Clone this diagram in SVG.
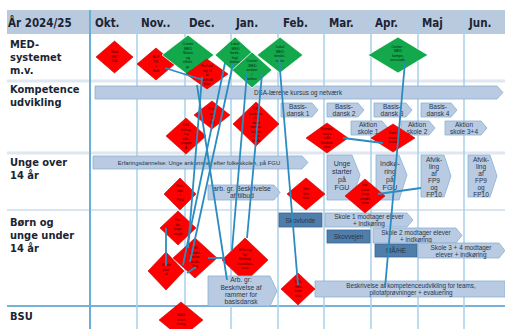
<svg xmlns="http://www.w3.org/2000/svg" width="505" height="329" viewBox="0 0 505 329">
<style>
.hdr{font-family:"DejaVu Sans Condensed","DejaVu Sans",sans-serif;font-stretch:condensed;font-weight:bold;font-size:11.5px;fill:#1b2433}
.lbl{font-family:"DejaVu Sans Condensed","DejaVu Sans",sans-serif;font-stretch:condensed;font-weight:bold;font-size:11px;fill:#1b2433}
.bar{fill:#b8cbe2;stroke:#8db0d4;stroke-width:0.8}
.dark{fill:#4f7eab;stroke:#3a6590;stroke-width:0.8}
.bt{font-family:"Liberation Sans",Arial,sans-serif;fill:#2a3548;text-anchor:middle}
.red{fill:#ff0000;stroke:#c40000;stroke-width:0.6}
.grn{fill:#13a84b;stroke:#ffffff;stroke-width:0.8}
.dt{font-family:"Liberation Sans",Arial,sans-serif;font-size:3.6px;fill:#3a0000;text-anchor:middle}
.gt{font-family:"Liberation Sans",Arial,sans-serif;font-size:3.6px;fill:#062a10;text-anchor:middle}
.vl{stroke:#a9d1ea;stroke-width:1.5}
.hl{stroke:#dfe7f0;stroke-width:3}
.cn line{stroke:#2b8cc0;stroke-width:1.8}
</style>
<rect width="505" height="329" fill="#ffffff"/>
<g id="grid">
<rect x="7" y="10" width="498" height="24" fill="#b9cadf"/>
<line class="hl" x1="7" y1="81" x2="505" y2="81"/>
<line class="hl" x1="7" y1="153" x2="505" y2="153"/>
<line x1="7" y1="210" x2="505" y2="210" stroke="#c9dced" stroke-width="1.5"/>
<line x1="7" y1="306" x2="505" y2="306" stroke="#77b2d8" stroke-width="2"/>
<line x1="90" y1="10" x2="90" y2="329" stroke="#6aaed6" stroke-width="2"/>
<line class="vl" x1="137" y1="10" x2="137" y2="329"/>
<line class="vl" x1="185" y1="10" x2="185" y2="329"/>
<line class="vl" x1="231" y1="10" x2="231" y2="329"/>
<line class="vl" x1="278" y1="10" x2="278" y2="329"/>
<line class="vl" x1="324" y1="10" x2="324" y2="329"/>
<line class="vl" x1="371" y1="10" x2="371" y2="329"/>
<line class="vl" x1="418" y1="10" x2="418" y2="329"/>
<line class="vl" x1="464" y1="10" x2="464" y2="329"/>
</g>
<g id="header">
<text class="hdr" x="8" y="27">År 2024/25</text>
<text class="hdr" x="95" y="27">Okt.</text>
<text class="hdr" x="141" y="27">Nov..</text>
<text class="hdr" x="189" y="27">Dec.</text>
<text class="hdr" x="236" y="27">Jan.</text>
<text class="hdr" x="283" y="27">Feb.</text>
<text class="hdr" x="329" y="27">Mar.</text>
<text class="hdr" x="375" y="27">Apr.</text>
<text class="hdr" x="422" y="27">Maj</text>
<text class="hdr" x="469" y="27">Jun.</text>
</g>
<g id="row-labels">
<text class="lbl" x="10" y="48">MED-</text>
<text class="lbl" x="10" y="61">systemet</text>
<text class="lbl" x="10" y="74">m.v.</text>
<text class="lbl" x="10" y="93">Kompetence</text>
<text class="lbl" x="10" y="106">udvikling</text>
<text class="lbl" x="10" y="166">Unge over</text>
<text class="lbl" x="10" y="179">14 år</text>
<text class="lbl" x="10" y="226">Børn og</text>
<text class="lbl" x="10" y="239">unge under</text>
<text class="lbl" x="10" y="252">14 år</text>
<text class="lbl" x="10" y="320">BSU</text>
</g>
<g id="bars">
<g id="dsa"><path class="bar" d="M95,86 H497 L503,92.5 L497,99 H95 Z"/><text class="bt" x="298" y="94.5" font-size="6.3">DSA-lærene kursus og netværk</text></g>
<g id="basis1"><path class="bar" d="M281,103 H312 L318,110 L312,117 H281 Z"/><text class="bt" x="298" y="109" font-size="6.5">Basis-</text><text class="bt" x="298" y="116" font-size="6.5">dansk 1</text></g>
<g id="basis2"><path class="bar" d="M327,103 H358 L364,110 L358,117 H327 Z"/><text class="bt" x="344" y="109" font-size="6.5">Basis-</text><text class="bt" x="344" y="116" font-size="6.5">dansk 2</text></g>
<g id="basis3"><path class="bar" d="M374,103 H406 L412,110 L406,117 H374 Z"/><text class="bt" x="392" y="109" font-size="6.5">Basis-</text><text class="bt" x="392" y="116" font-size="6.5">dansk 3</text></g>
<g id="basis4"><path class="bar" d="M421,103 H451 L457,110 L451,117 H421 Z"/><text class="bt" x="438" y="109" font-size="6.5">Basis-</text><text class="bt" x="438" y="116" font-size="6.5">dansk 4</text></g>
<g id="aktion1"><path class="bar" d="M351,121 H382 L388,128 L382,135 H351 Z"/><text class="bt" x="368" y="127" font-size="6.5">Aktion</text><text class="bt" x="368" y="134" font-size="6.5">skole 1</text></g>
<g id="aktion2"><path class="bar" d="M401,121 H429 L435,128 L429,135 H401 Z"/><text class="bt" x="417" y="127" font-size="6.5">Aktion</text><text class="bt" x="417" y="134" font-size="6.5">skole 2</text></g>
<g id="aktion34"><path class="bar" d="M445,121 H481 L487,128 L481,135 H445 Z"/><text class="bt" x="464" y="127" font-size="6.5">Aktion</text><text class="bt" x="464" y="134" font-size="6.5">skole 3+4</text></g>
<g id="erfaring"><path class="bar" d="M93,156 H302 L308,162.5 L302,169 H93 Z"/><text class="bt" x="199" y="164.5" font-size="5.9">Erfaringsdannelse: Unge ankommet efter folkeskolen, på FGU</text></g>
<g id="ungestarter"><path class="bar" d="M327,155 H352 L360,175 L352,200 H327 Z"/><text class="bt" x="342" y="166" font-size="7">Unge</text><text class="bt" x="342" y="174" font-size="7">starter</text><text class="bt" x="342" y="182" font-size="7">på</text><text class="bt" x="342" y="190" font-size="7">FGU</text></g>
<g id="indkoring"><path class="bar" d="M376,155 H399 L407,175 L399,200 H376 Z"/><text class="bt" x="390" y="166" font-size="7">Indkø-</text><text class="bt" x="390" y="174" font-size="7">ring</text><text class="bt" x="390" y="182" font-size="7">på</text><text class="bt" x="390" y="190" font-size="7">FGU</text></g>
<g id="afvikling1"><path class="bar" d="M421,155 H444 L451,176 L444,197 H421 Z"/><text class="bt" x="434" y="162" font-size="6.5">Afvik-</text><text class="bt" x="434" y="169" font-size="6.5">ling</text><text class="bt" x="434" y="176" font-size="6.5">af</text><text class="bt" x="434" y="183" font-size="6.5">FP9</text><text class="bt" x="434" y="190" font-size="6.5">og</text><text class="bt" x="434" y="197" font-size="6.5">FP10</text></g>
<g id="afvikling2"><path class="bar" d="M468,155 H490 L497,176 L490,197 H468 Z"/><text class="bt" x="481" y="162" font-size="6.5">Afvik-</text><text class="bt" x="481" y="169" font-size="6.5">ling</text><text class="bt" x="481" y="176" font-size="6.5">af</text><text class="bt" x="481" y="183" font-size="6.5">FP9</text><text class="bt" x="481" y="190" font-size="6.5">og</text><text class="bt" x="481" y="197" font-size="6.5">FP10</text></g>
<g id="arbtilbud"><path class="bar" d="M208,185 H274 L280,192.5 L274,200 H208 Z"/><text class="bt" x="242" y="191" font-size="6.8">arb. gr. Beskrivelse</text><text class="bt" x="242" y="198" font-size="6.8">af tilbud</text></g>
<g id="skovlunde"><rect class="dark" x="279" y="213" width="43" height="14"/><text class="bt" x="300.5" y="222.5" font-size="6.4" fill="#1b2a40">Skovlunde</text></g>
<g id="skole1"><path class="bar" d="M325,213 H407 L413,220 L407,227 H325 Z"/><text class="bt" x="369" y="219" font-size="6.4">Skole 1 modtager elever</text><text class="bt" x="369" y="226" font-size="6.4">+ indkøring</text></g>
<g id="skovvejen"><rect class="dark" x="327" y="230" width="43" height="13"/><text class="bt" x="348.5" y="239" font-size="6.4" fill="#1b2a40">Skovvejen</text></g>
<g id="skole2"><path class="bar" d="M373,228 H456 L462,235.5 L456,243 H373 Z"/><text class="bt" x="416" y="234.5" font-size="6.4">Skole 2 modtager elever</text><text class="bt" x="416" y="241.5" font-size="6.4">+ indkøring</text></g>
<g id="maahe"><rect class="dark" x="375" y="244" width="42" height="13"/><text class="bt" x="396" y="253" font-size="6.4" fill="#1b2a40">MÅ/HE</text></g>
<g id="skole34"><path class="bar" d="M418,243 H499 L505,250.5 L499,258 H418 Z"/><text class="bt" x="461" y="249.5" font-size="6.4">Skole 3 + 4  modtager</text><text class="bt" x="461" y="256.5" font-size="6.4">elever + indkøring</text></g>
<g id="beskrivkomp"><path class="bar" d="M315,281 H505 V297 H315 Z"/><text class="bt" x="411" y="287.5" font-size="6.3">Beskrivelse af kompetenceudvikling for teams,</text><text class="bt" x="411" y="294.5" font-size="6.3">pilotafprøvninger + evaluering</text></g>
</g>
<g id="diamonds">
<g id="d1"><polygon class="red" points="114.5,41 133,57 114.5,73 96,57"/><text class="dt" x="114.5" y="53">Mød</text><text class="dt" x="114.5" y="57.5">SST</text><text class="dt" x="114.5" y="62">OS</text></g>
<g id="d2"><polygon class="red" points="156,48 175,64 156,80 137,64"/><text class="dt" x="156" y="58">BLP</text><text class="dt" x="156" y="62.5">TR</text><text class="dt" x="156" y="67">+</text><text class="dt" x="156" y="71.5">Sub</text></g>
<g id="d3"><polygon class="grn" points="188,35 214,55 188,75 162,55"/><text class="gt" x="188" y="45">Center</text><text class="gt" x="188" y="49.5">MED</text><text class="gt" x="188" y="54">Status</text><text class="gt" x="188" y="58.5">og</text><text class="gt" x="188" y="63">effekt-</text><text class="gt" x="188" y="67.5">gr.</text></g>
<g id="d4"><polygon class="red" points="207,59 228,74 207,89 186,74"/><text class="dt" x="207" y="67">Forhold</text><text class="dt" x="207" y="71.5">ing til</text><text class="dt" x="207" y="76">at</text><text class="dt" x="207" y="80.5">forhold</text><text class="dt" x="207" y="85">ikke</text></g>
<g id="d5"><polygon class="grn" points="235,37 255,55 235,73 215,55"/><text class="gt" x="235" y="45">Lokal</text><text class="gt" x="235" y="49.5">-MED</text><text class="gt" x="235" y="54">forde-</text><text class="gt" x="235" y="58.5">ling/</text><text class="gt" x="235" y="63">behov</text></g>
<g id="d6"><polygon class="grn" points="252,52 272,70 252,88 232,70"/><text class="gt" x="252" y="62">Center</text><text class="gt" x="252" y="66.5">-MED</text><text class="gt" x="252" y="71">ønsker</text><text class="gt" x="252" y="75.5">/</text><text class="gt" x="252" y="80">behov</text></g>
<g id="d7"><polygon class="grn" points="280,37 303,55 280,73 257,55"/><text class="gt" x="280" y="48">Lokal</text><text class="gt" x="280" y="52.5">MED</text><text class="gt" x="280" y="57">beskri-</text><text class="gt" x="280" y="61.5">velse</text></g>
<g id="d8"><polygon class="grn" points="398,37 428,55 398,73 368,55"/><text class="gt" x="398" y="47.5">Center -</text><text class="gt" x="398" y="52">MED</text><text class="gt" x="398" y="56.5">kompe-</text><text class="gt" x="398" y="61">tenceudv.</text></g>
<g id="d9"><polygon class="red" points="212,101 230,115 212,129 194,115"/><text class="dt" x="212" y="110">Kur-</text><text class="dt" x="212" y="114.5">sus</text><text class="dt" x="212" y="119">til</text><text class="dt" x="212" y="123.5">FB</text></g>
<g id="d10"><polygon class="red" points="186,118 206,136 186,154 166,136"/><text class="dt" x="186" y="126">DSL</text><text class="dt" x="186" y="130.5">deltag-</text><text class="dt" x="186" y="135">ing</text><text class="dt" x="186" y="139.5">arb.-</text><text class="dt" x="186" y="144">gruppe</text><text class="dt" x="186" y="148.5">A</text></g>
<g id="d11"><polygon class="red" points="256,102 279,124 256,146 233,124"/><text class="dt" x="256" y="110">DSL</text><text class="dt" x="256" y="114.5">beskrive-</text><text class="dt" x="256" y="119">ring</text><text class="dt" x="256" y="123.5">med</text><text class="dt" x="256" y="128">medar-</text><text class="dt" x="256" y="132.5">bejder</text><text class="dt" x="256" y="137">e på</text><text class="dt" x="256" y="141.5">skole</text></g>
<g id="d12"><polygon class="red" points="327,123 348,138 327,153 306,138"/><text class="dt" x="327" y="130">Kompe-</text><text class="dt" x="327" y="134.5">tence</text><text class="dt" x="327" y="139">rolle</text><text class="dt" x="327" y="143.5">Beskriv-</text><text class="dt" x="327" y="148">else</text></g>
<g id="d13"><polygon class="red" points="393,124 415,138 393,152 371,138"/><text class="dt" x="393" y="134">Kom-</text><text class="dt" x="393" y="138.5">mune</text><text class="dt" x="393" y="143">møde</text></g>
<g id="d14"><polygon class="red" points="180,178 196,194 180,210 164,194"/><text class="dt" x="180" y="187">Kon-</text><text class="dt" x="180" y="191.5">takt</text><text class="dt" x="180" y="196">i</text><text class="dt" x="180" y="200.5">FGU</text></g>
<g id="d15"><polygon class="red" points="306,178 325,194 306,210 287,194"/><text class="dt" x="306" y="190">Bes</text><text class="dt" x="306" y="194.5">kriv</text><text class="dt" x="306" y="199">else</text></g>
<g id="d16"><polygon class="red" points="365,179 385,196 365,213 345,196"/><text class="dt" x="365" y="186">Ind-</text><text class="dt" x="365" y="190.5">sluse</text><text class="dt" x="365" y="195">ning</text><text class="dt" x="365" y="199.5">ansæt-</text><text class="dt" x="365" y="204">telse</text></g>
<g id="d17"><polygon class="red" points="178,211 196,228 178,245 160,228"/><text class="dt" x="178" y="221">For-</text><text class="dt" x="178" y="225.5">de-</text><text class="dt" x="178" y="230">lings-</text><text class="dt" x="178" y="234.5">nøgle</text></g>
<g id="d18"><polygon class="red" points="166,252 184,271 166,290 148,271"/><text class="dt" x="166" y="266">Skole</text><text class="dt" x="166" y="270.5">plan</text><text class="dt" x="166" y="275">af</text></g>
<g id="d19"><polygon class="red" points="195,238 217,258 195,278 173,258"/><text class="dt" x="195" y="249">DSL</text><text class="dt" x="195" y="253.5">beskri-</text><text class="dt" x="195" y="258">velse</text><text class="dt" x="195" y="262.5">forde-</text><text class="dt" x="195" y="267">ling</text></g>
<g id="d20"><polygon class="red" points="245,238 268,260 245,282 222,260"/><text class="dt" x="245" y="251">Erfaring</text><text class="dt" x="245" y="255.5">fra</text><text class="dt" x="245" y="260">Modtag-</text><text class="dt" x="245" y="264.5">elsesklas-</text><text class="dt" x="245" y="269">sere</text></g>
<g id="d21"><polygon class="red" points="298,273 315,289 298,305 281,289"/><text class="dt" x="298" y="283">DSL</text><text class="dt" x="298" y="287.5">Bes</text><text class="dt" x="298" y="292">krive</text><text class="dt" x="298" y="296.5">else</text></g>
<g id="d22"><polygon class="red" points="181,302 203,320 181,338 159,320"/><text class="dt" x="181" y="316">BSU</text><text class="dt" x="181" y="320.5">orien</text><text class="dt" x="181" y="325">tering</text></g>
</g>
<g id="arbrammer"><path class="bar" d="M208,276 H270 L277,291 L270,306 H208 Z"/><text class="bt" x="241" y="282.3" font-size="6.6">Arb. gr:</text><text class="bt" x="241" y="289.5" font-size="6.6">Beskrivelse af</text><text class="bt" x="241" y="296.7" font-size="6.6">rammer for</text><text class="bt" x="241" y="303.9" font-size="6.6">basisdansk</text></g>
<g id="connectors" class="cn">
<line x1="165" y1="68" x2="203" y2="80"/>
<line x1="225" y1="63" x2="183" y2="265"/>
<line x1="233" y1="64" x2="190" y2="262"/>
<line x1="202" y1="77" x2="188" y2="248"/>
<line x1="197" y1="85" x2="227" y2="280"/>
<line x1="247" y1="73" x2="232" y2="250"/>
<line x1="262" y1="74" x2="247" y2="238"/>
<line x1="279" y1="58" x2="298" y2="285"/>
<line x1="405" y1="62" x2="385" y2="288"/>
<line x1="343" y1="138" x2="383" y2="143"/>
<line x1="378" y1="194" x2="421" y2="188"/>
<line x1="166" y1="228" x2="166" y2="266"/>
<line x1="208" y1="258" x2="224" y2="258"/>
<line x1="187" y1="273" x2="196" y2="267"/>
</g>
</svg>
